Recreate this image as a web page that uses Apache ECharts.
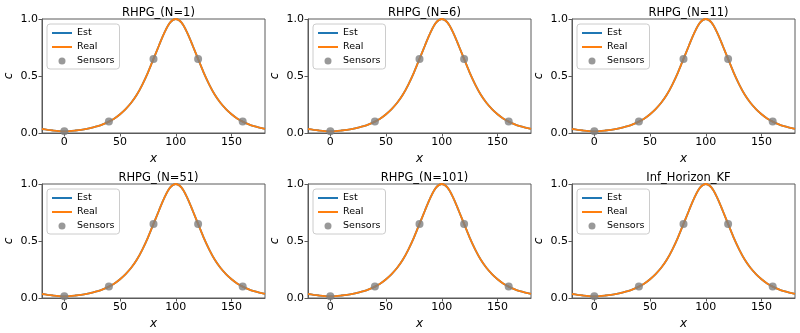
<!DOCTYPE html>
<html>
<head>
<meta charset="utf-8">
<script src="https://cdn.jsdelivr.net/npm/echarts@6/dist/echarts.min.js"></script>
<style>
  html, body { margin: 0; padding: 0; background: #fff; }
  #chart { width: 800px; height: 333px; }
</style>
</head>
<body>
<div id="chart"></div>
<script>
// Panel titles, row by row
const panelTitles = ['RHPG_(N=1)', 'RHPG_(N=6)', 'RHPG_(N=11)',
                     'RHPG_(N=51)', 'RHPG_(N=101)', 'Inf_Horizon_KF'];

// Concentration profile along x
const profileX = [-20, -15, -10, -5, 0, 5, 10, 15, 20, 25, 30, 35, 40, 45, 50, 55, 60, 65, 70, 75,
                  80, 85, 90, 95, 100, 105, 110, 115, 120, 125, 130, 135, 140, 145, 150, 155,
                  160, 165, 170, 175, 180];
const realC = [0.035, 0.028, 0.022, 0.017, 0.015, 0.017, 0.022, 0.028, 0.036, 0.047, 0.060, 0.078,
               0.100, 0.128, 0.165, 0.210, 0.265, 0.335, 0.425, 0.530, 0.650, 0.770, 0.885, 0.970,
               1.000, 0.970, 0.885, 0.770, 0.650, 0.530, 0.425, 0.335, 0.265, 0.210, 0.165, 0.128,
               0.100, 0.078, 0.060, 0.047, 0.036];
// Estimate coincides with the real profile
const estC = realC.slice();

// Sensor locations and readings
const sensorX = [0, 40, 80, 120, 160];
const sensorC = [0.015, 0.10, 0.65, 0.65, 0.10];

// Axis ticks
const xTicks = [0, 50, 100, 150];

const FONT = 'DejaVu Sans';
const SPINE = '#5a5a5a';
const colLeft = [42, 308, 572];
const rowTop = [19, 184];
const plotW = 223, plotH = 114;

// Line entries in the legend: stroke only, no marker
const noMarker = { color: 'rgba(0,0,0,0)', borderWidth: 0 };

const grids = [], xAxes = [], yAxes = [], series = [], titles = [], legends = [];

panelTitles.forEach((name, i) => {
  const col = i % 3, row = Math.floor(i / 3);
  const left = colLeft[col], top = rowTop[row];
  grids.push({
    left: left, top: top, width: plotW, height: plotH,
    show: true, borderColor: SPINE, borderWidth: 1, backgroundColor: 'transparent'
  });
  xAxes.push({
    gridIndex: i, type: 'value', min: -20, max: 180,
    name: 'x', nameLocation: 'middle', nameGap: 20,
    nameTextStyle: { fontFamily: FONT, fontStyle: 'italic', fontSize: 12, color: '#000' },
    axisLine: { show: true, onZero: false, lineStyle: { color: SPINE, width: 1 } },
    axisTick: { show: true, inside: false, length: 3.5, customValues: xTicks, lineStyle: { color: SPINE } },
    axisLabel: { customValues: xTicks, fontFamily: FONT, fontSize: 11, color: '#000', margin: 4 },
    splitLine: { show: false }
  });
  yAxes.push({
    gridIndex: i, type: 'value', min: 0, max: 1, interval: 0.5,
    name: 'c', nameLocation: 'middle', nameGap: 27,
    nameTextStyle: { fontFamily: FONT, fontStyle: 'italic', fontSize: 12, color: '#000' },
    axisLine: { show: true, onZero: false, lineStyle: { color: SPINE, width: 1 } },
    axisTick: { show: true, inside: false, length: 3.5, lineStyle: { color: SPINE } },
    axisLabel: { fontFamily: FONT, fontSize: 11, color: '#000', margin: 4,
                 formatter: v => v.toFixed(1) },
    splitLine: { show: false }
  });
  titles.push({
    text: name, left: left + plotW / 2, top: top - 17, textAlign: 'center',
    textStyle: { fontFamily: FONT, fontSize: 11.5, fontWeight: 'normal', color: '#000' }
  });
  legends.push({
    data: [
      { name: 'Est', itemStyle: noMarker },
      { name: 'Real', itemStyle: noMarker },
      { name: 'Sensors' }
    ],
    orient: 'vertical', left: left + 5, top: top + 5,
    itemWidth: 20, itemHeight: 7, itemGap: 4,
    padding: [4, 5, 3, 4],
    backgroundColor: 'rgba(255,255,255,0.8)', borderColor: '#cccccc', borderWidth: 1, borderRadius: 3,
    textStyle: { fontFamily: FONT, fontSize: 9.5, color: '#000' },
    selectedMode: false
  });
  series.push({
    name: 'Est', type: 'line', xAxisIndex: i, yAxisIndex: i,
    data: profileX.map((x, k) => [x, estC[k]]),
    smooth: 0.3, symbol: 'none', color: '#1f77b4',
    lineStyle: { width: 1.8, color: '#1f77b4' }, z: 2
  });
  series.push({
    name: 'Real', type: 'line', xAxisIndex: i, yAxisIndex: i,
    data: profileX.map((x, k) => [x, realC[k]]),
    smooth: 0.3, symbol: 'none', color: '#ff7f0e',
    lineStyle: { width: 1.8, color: '#ff7f0e' }, z: 3
  });
  series.push({
    name: 'Sensors', type: 'scatter', xAxisIndex: i, yAxisIndex: i,
    data: sensorX.map((x, k) => [x, sensorC[k]]),
    symbol: 'circle', symbolSize: 8, color: '#808080',
    itemStyle: { color: '#808080' }, z: 4
  });
});

const chart = echarts.init(document.getElementById('chart'), null, { renderer: 'canvas' });
chart.setOption({
  animation: false,
  backgroundColor: '#fff',
  title: titles,
  legend: legends,
  grid: grids,
  xAxis: xAxes,
  yAxis: yAxes,
  series: series
});
</script>
</body>
</html>
